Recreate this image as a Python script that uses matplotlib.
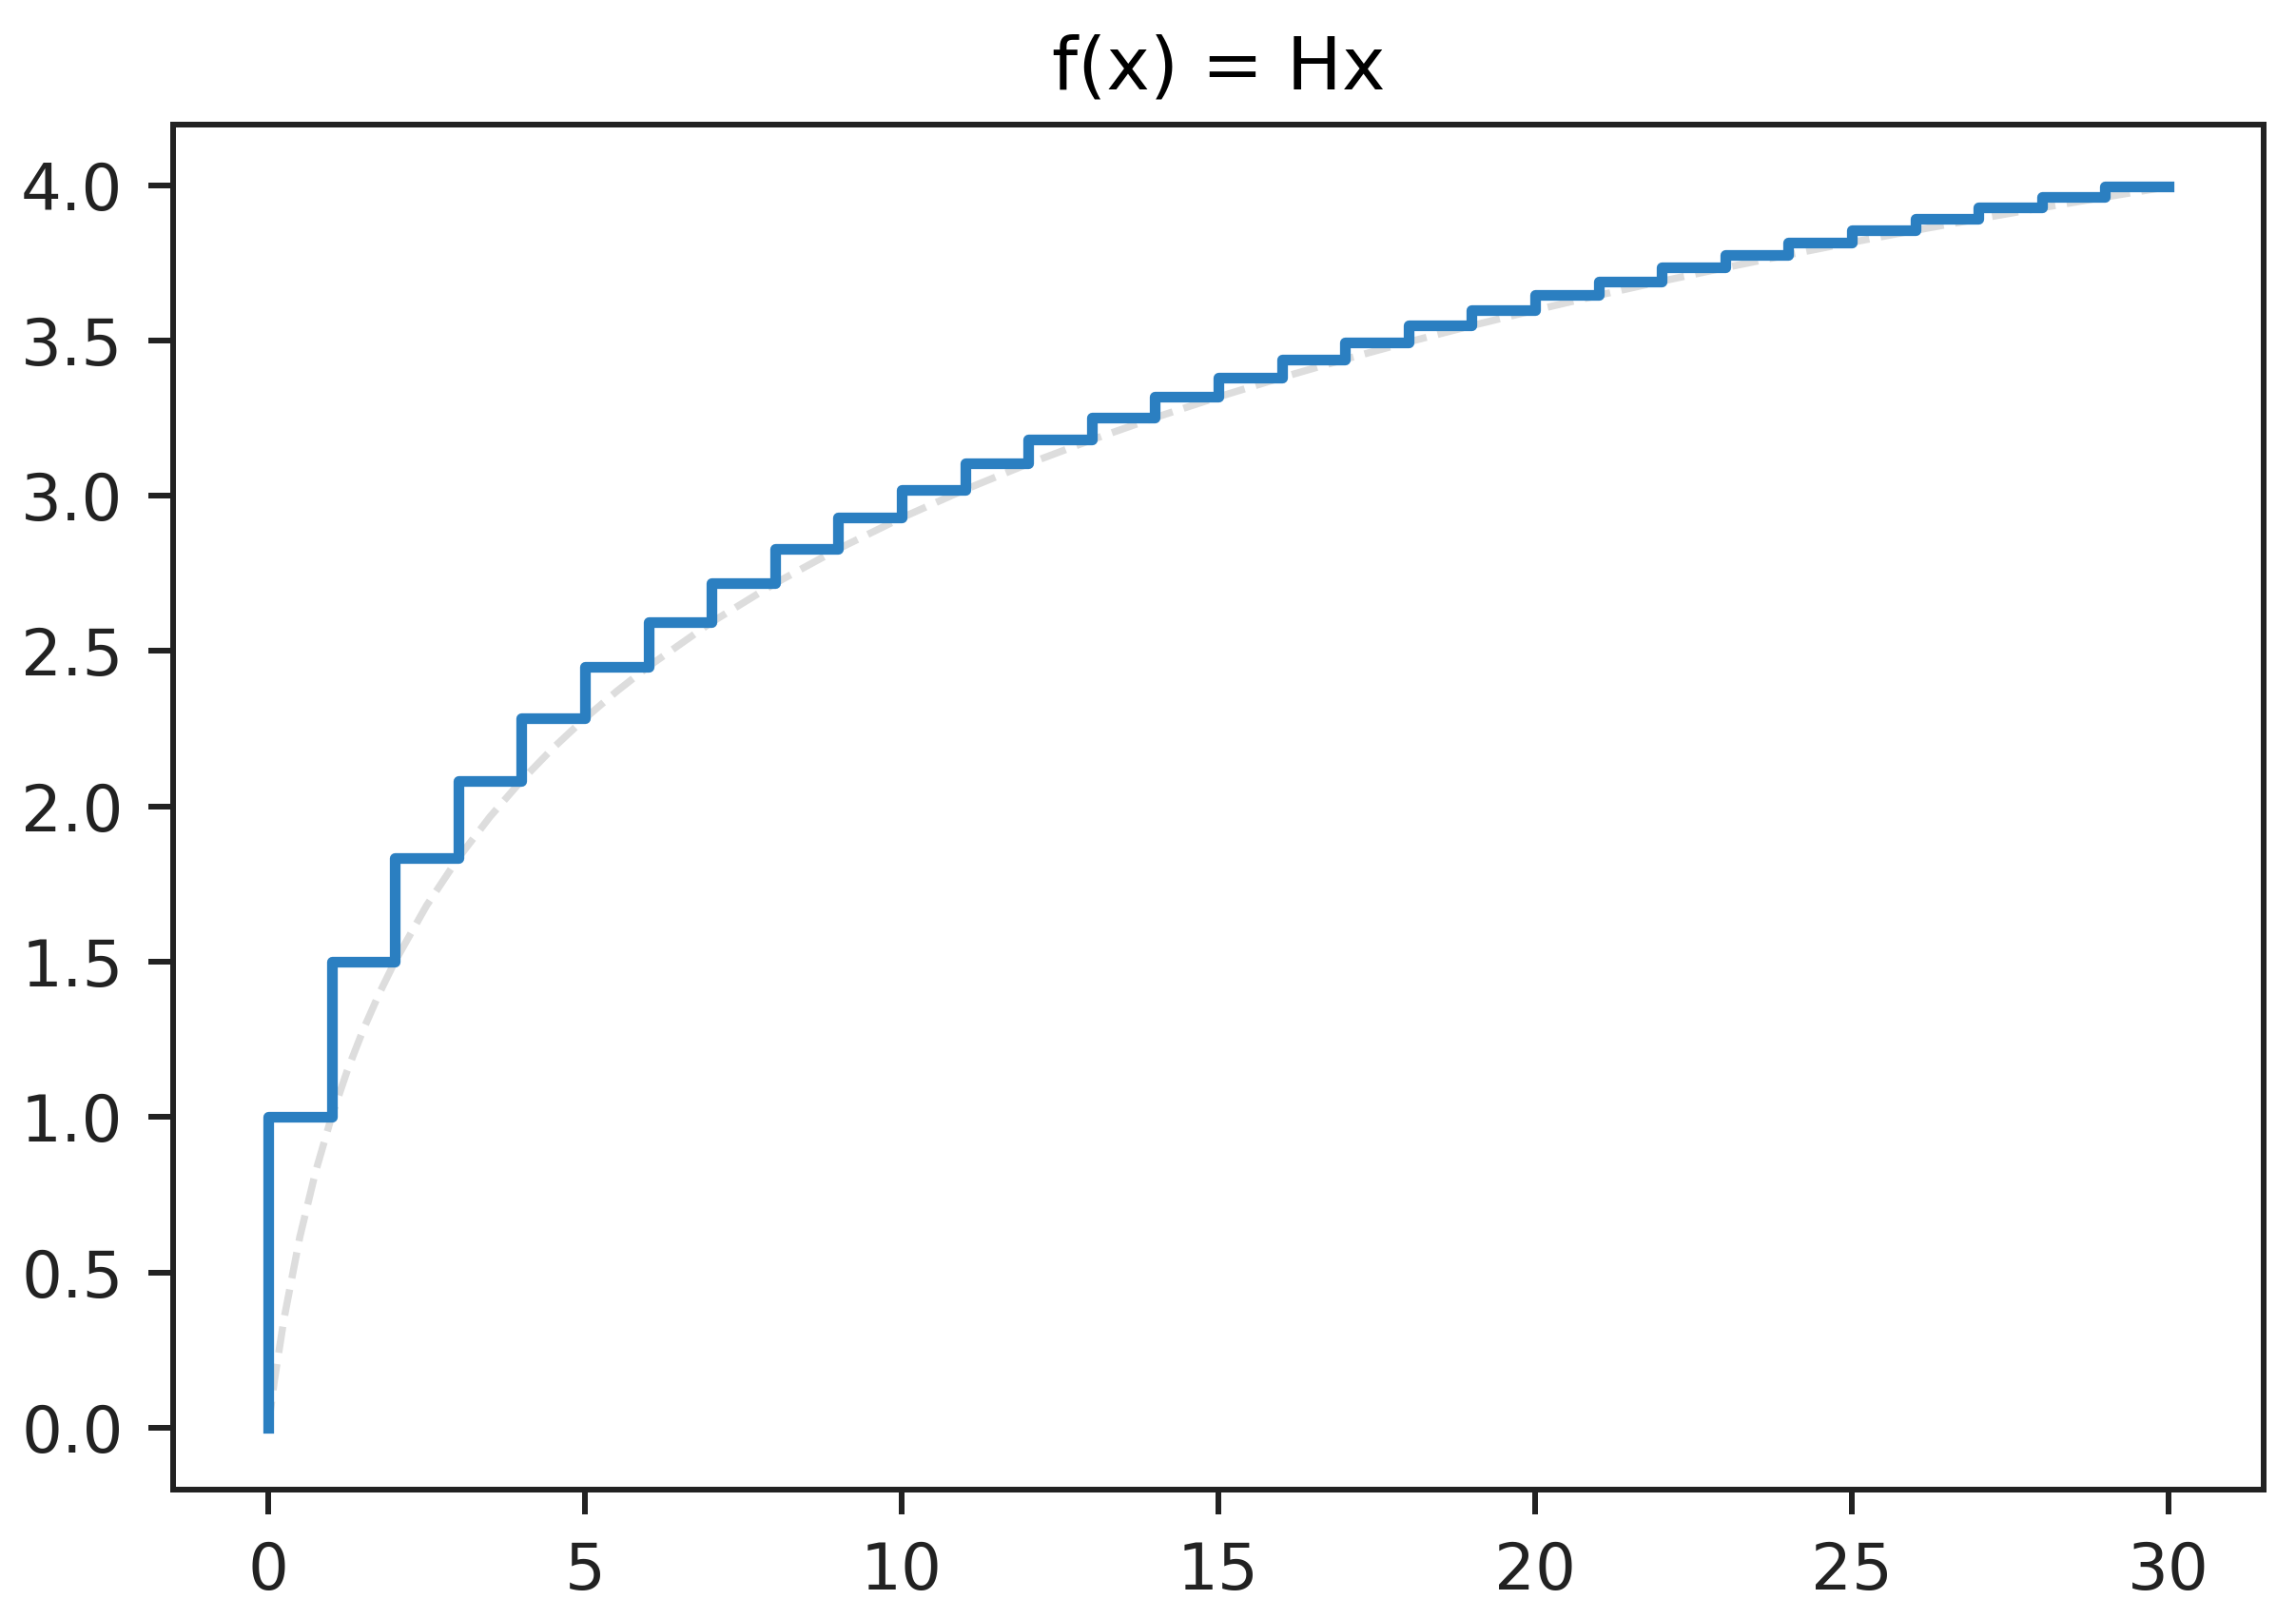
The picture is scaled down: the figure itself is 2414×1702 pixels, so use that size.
import numpy as np
import matplotlib
matplotlib.use("Agg")
import matplotlib.pyplot as plt

# harmonic numbers H_0 .. H_30
n = list(range(31))
H = [0.0, 1.0, 1.5, 1.8333, 2.0833, 2.2833, 2.45, 2.5929, 2.7179, 2.8290,
     2.9290, 3.0199, 3.1032, 3.1801, 3.2516, 3.3182, 3.3807, 3.4396, 3.4951,
     3.5477, 3.5977, 3.6454, 3.6908, 3.7343, 3.7760, 3.8160, 3.8544, 3.8915,
     3.9272, 3.9617, 3.9950]

# smooth (dashed) continuation, sampled points
xs = [0, 0.1, 0.25, 0.5, 0.75, 1, 1.25, 1.5, 1.75, 2, 2.5, 3, 3.5, 4, 4.5,
      5, 5.5, 6, 7, 8, 9, 10, 11, 12, 13, 14, 15, 16, 17, 18, 19, 20, 21,
      22, 23, 24, 25, 26, 27, 28, 29, 30]
ys = [0.0, 0.1534, 0.3498, 0.6137, 0.8247, 1.0, 1.1498, 1.2804, 1.3961, 1.5,
      1.6804, 1.8333, 1.9661, 2.0833, 2.1883, 2.2833, 2.3701, 2.45, 2.5929,
      2.7179, 2.8290, 2.9290, 3.0199, 3.1032, 3.1801, 3.2516, 3.3182, 3.3807,
      3.4396, 3.4951, 3.5477, 3.5977, 3.6454, 3.6908, 3.7343, 3.7760, 3.8160,
      3.8544, 3.8915, 3.9272, 3.9617, 3.9950]

dpi = 540
fig = plt.figure(figsize=(2414 / dpi, 1702 / dpi), dpi=dpi)
ax = fig.add_axes([0.0754, 0.0799, 0.9105, 0.8431])

ax.plot(xs, ys, '--', color='#dddddd', lw=1, zorder=1)
ax.step(n, H, where='pre', color='#2b7fc1', lw=1.5, zorder=2)

ax.set_title('f(x) = Hx', fontsize=10.3, pad=5)
ax.tick_params(labelsize=9, colors='#222222', labelcolor='#222222')
for s in ax.spines.values():
    s.set_color('#222222')

fig.savefig('out.png', dpi=dpi)
